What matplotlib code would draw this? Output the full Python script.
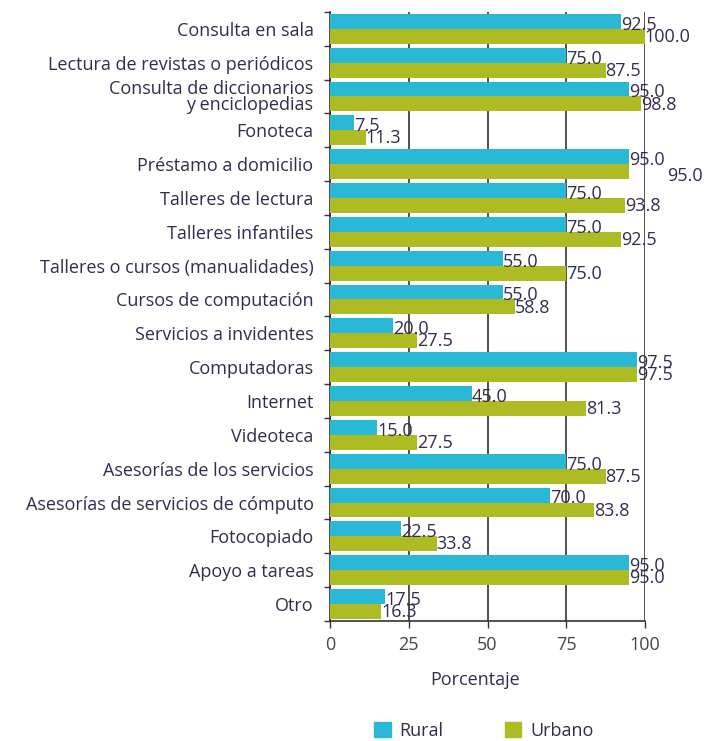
import matplotlib
matplotlib.use('Agg')
import matplotlib.pyplot as plt
import numpy as np

categories = [
    "Consulta en sala",
    "Lectura de revistas o periódicos",
    "Consulta de diccionarios\ny enciclopedias",
    "Fonoteca",
    "Préstamo a domicilio",
    "Talleres de lectura",
    "Talleres infantiles",
    "Talleres o cursos (manualidades)",
    "Cursos de computación",
    "Servicios a invidentes",
    "Computadoras",
    "Internet",
    "Videoteca",
    "Asesorías de los servicios",
    "Asesorías de servicios de cómputo",
    "Fotocopiado",
    "Apoyo a tareas",
    "Otro",
]
rural = [92.5, 75.0, 95.0, 7.5, 95.0, 75.0, 75.0, 55.0, 55.0, 20.0,
         97.5, 45.0, 15.0, 75.0, 70.0, 22.5, 95.0, 17.5]
urbano = [100.0, 87.5, 98.8, 11.3, 95.0, 93.8, 92.5, 75.0, 58.8, 27.5,
          97.5, 81.3, 27.5, 87.5, 83.8, 33.8, 95.0, 16.3]

c_rural = "#29b9d6"
c_urbano = "#afbb22"
txt = "#2e2e4e"

plt.rcParams['font.family'] = ['Open Sans', 'DejaVu Sans']

fig = plt.figure(figsize=(7.04, 7.41), dpi=100)
ax = fig.add_axes([0.469, 0.162, 0.447, 0.822])

y = np.arange(len(categories))
h = 0.44
ax.barh(y - h / 2, rural, height=h, color=c_rural, zorder=3)
ax.barh(y + h / 2, urbano, height=h, color=c_urbano, zorder=3)

for i in range(len(categories)):
    ax.text(rural[i], y[i] - h / 2 + 0.1, f"{rural[i]:.1f}", va='center', ha='left',
            fontsize=13, color=txt, zorder=4)
    dx, dy = 0, 0.02
    if i == 4:
        # this label sits off to the right in the original
        dx, dy = 12, 0.12
    ax.text(urbano[i] + dx, y[i] + h / 2 + dy, f"{urbano[i]:.1f}", va='center', ha='left',
            fontsize=13, color=txt, zorder=4, clip_on=False)

ax.set_xlim(0, 100)
ax.set_ylim(len(categories) - 0.5, -0.5)
ax.set_xticks([0, 25, 50, 75, 100])
ax.set_yticks(y)
ax.set_yticklabels(categories, fontsize=13, color=txt, linespacing=0.85)
ax.set_yticks(np.arange(len(categories) + 1) - 0.5, minor=True)
ax.tick_params(axis='y', which='major', length=0, pad=12)
ax.tick_params(axis='y', which='minor', length=4, width=1, color='#333333')
ax.tick_params(axis='x', length=5, width=1, color='#333333', labelsize=13, labelcolor='#4a4545', pad=6)
ax.grid(axis='x', color='#333333', linewidth=1.2, zorder=1)
for s in ['top', 'right']:
    ax.spines[s].set_visible(False)
for s in ['left', 'bottom']:
    ax.spines[s].set_color('#333333')
    ax.spines[s].set_linewidth(1.2)

fig.text(475 / 704, 1 - 680 / 741, "Porcentaje", fontsize=13, color=txt, ha='center', va='center')

handles = [plt.Rectangle((0, 0), 1, 1, color=c_rural),
           plt.Rectangle((0, 0), 1, 1, color=c_urbano)]
fig.legend(handles, ["Rural", "Urbano"], loc='center', ncol=2, frameon=False,
           bbox_to_anchor=(484 / 704, 1 - 731 / 741), fontsize=13, handlelength=0.9, handleheight=0.9,
           columnspacing=3.4, handletextpad=0.5, labelcolor=txt)

fig.savefig("out.png", dpi=100)
